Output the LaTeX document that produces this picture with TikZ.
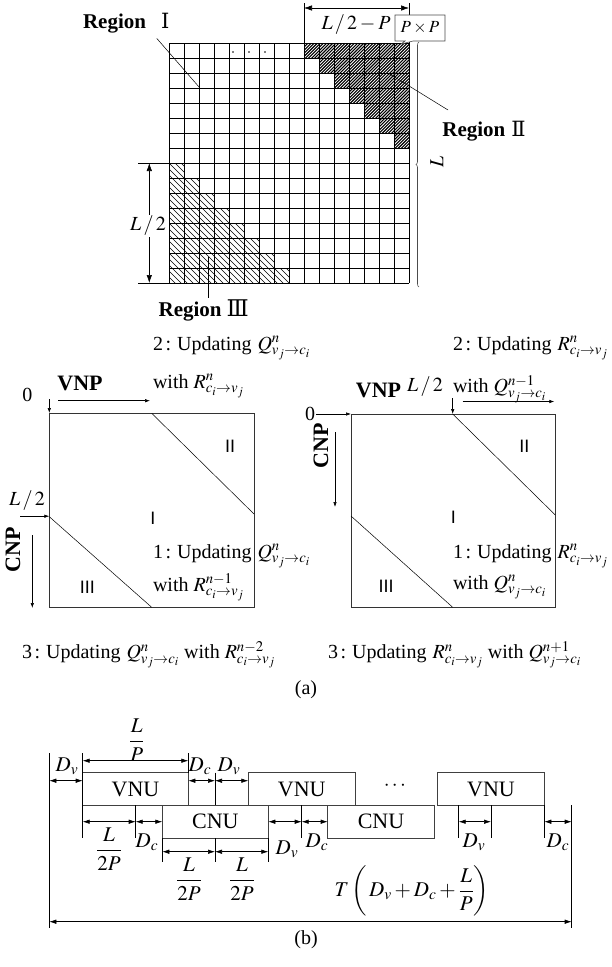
\documentclass[tikz,border=0pt]{standalone}
\usepackage{amsmath}
\usepackage{mathptmx}
\usepackage[no-math]{fontspec}
\setmainfont{Liberation Serif}
\newfontfamily\arialf{Liberation Sans}
\newfontfamily\romf{DejaVu Serif}
\usetikzlibrary{arrows.meta,decorations.pathreplacing}
\newcommand\Qvc[1]{Q^{#1}_{v_j\to c_i}}
\newcommand\Rcv[1]{R^{#1}_{c_i\to v_j}}
\newcommand\stepno[1]{#1\hspace{2.5pt}:\hspace{6pt}Updating\hspace{6pt}}
\begin{document}
\begin{tikzpicture}[x=1pt,y=-1pt,
  font=\fontsize{20}{24}\selectfont,
  line width=0.7pt,
  gline/.style={line width=0.6pt},
  thinline/.style={line width=0.5pt},
  hatchA/.style={line width=1.1pt},
  hatchB/.style={line width=0.7pt},
  dimA/.style={{Latex[length=8pt,width=5.5pt]}-{Latex[length=8pt,width=5.5pt]},line width=0.6pt},
  tarrow/.style={{Latex[length=7pt,width=4.5pt]}-{Latex[length=7pt,width=4.5pt]},line width=0.6pt},
  sarrow/.style={-{Latex[length=5pt,width=3.5pt]},line width=0.6pt},
  txt/.style={anchor=base west,inner sep=0pt},
  regionlbl/.style={anchor=base west,inner sep=0pt,font=\fontsize{21}{25}\selectfont\bfseries},
  roman/.style={font=\fontsize{18}{20}\selectfont\arialf,inner sep=0pt},
  boxst/.style={draw=black!75,line width=0.7pt},
  bold/.style={font=\fontsize{22}{26}\selectfont\bfseries,inner sep=0pt},
  blab/.style={font=\fontsize{21}{25}\selectfont,inner sep=1pt}]
\useasboundingbox (0,0) rectangle (612,967);

% ---------------- top grid ----------------
% Region II hatching (/ lines)
\begin{scope}
  \clip (304,43) -- (409,43) -- (409,148) -- (394,148) -- (394,133) -- (379,133) -- (379,118)
    -- (364,118) -- (364,103) -- (349,103) -- (349,88) -- (334,88) -- (334,73) -- (319,73)
    -- (319,58) -- (304,58) -- cycle;
  \foreach \c in {345,348.1,...,560}
    \draw[hatchA] ({\c-150},150) -- ({\c-40},40);
\end{scope}
% Region III hatching (\ lines)
\begin{scope}
  \clip (169,163) -- (184,163) -- (184,178) -- (199,178) -- (199,193) -- (214,193) -- (214,208)
    -- (229,208) -- (229,223) -- (244,223) -- (244,238) -- (259,238) -- (259,253) -- (274,253)
    -- (274,268) -- (289,268) -- (289,283) -- (169,283) -- cycle;
  \foreach \c in {-120,-114,...,130}
    \draw[hatchB] ({\c+160},160) -- ({\c+290},290);
\end{scope}
\foreach \i in {0,...,16} {
  \draw[gline] ({169+15*\i},43) -- ({169+15*\i},283);
  \draw[gline] (169,{43+15*\i}) -- (409,{43+15*\i});
}
\foreach \x in {233,249,265} \fill (\x,52) circle (0.9pt);

% L/2-P dimension
\coordinate (d1a) at (304,3); \coordinate (d1b) at (304,43);
\coordinate (d2a) at (409,3); \coordinate (d2b) at (409,43);
\draw[thinline] (d1a) -- (d1b);
\draw[thinline] (d2a) -- (d2b);
\coordinate (a1) at (304,8); \coordinate (a2) at (409,8);
\draw[dimA] (a1) -- (a2);
\node (lp) at (356,25) {$L\,/\,2-P$};

% P x P callout
\draw[fill=white,draw=black!70,line width=0.6pt] (395,15) -- (445,15) -- (445,41) -- (413,41) -- (401,44) -- (405,41) -- (395,41) -- cycle;
\node (pp) at (420,28) {\fontsize{17}{20}\selectfont $P\times P$};

% L brace
\coordinate (b1) at (419,287); \coordinate (b2) at (419,42);
\draw[decorate,decoration={brace,amplitude=3pt},draw=black!70,line width=0.6pt] (b1) -- (b2);
\node[rotate=90] (Ll) at (437,162) {$L$};

% L/2 dimension (left)
\draw[thinline] (138,163) -- (169,163);
\draw[thinline] (138,283) -- (169,283);
\coordinate (h1) at (149.3,163); \coordinate (h2) at (149.3,283);
\draw[dimA] (h1) -- (h2);
\node[fill=white,inner sep=1pt] (lh) at (148,226) {$L\,/\,2$};

% region labels and leaders
\node[regionlbl] (r1) at (82.7,28.3) {Region\hspace{15pt}{\romf\mdseries Ⅰ}};
\node[regionlbl] (r2) at (442,136.5) {Region\hspace{6pt}{\romf\mdseries Ⅱ}};
\node[regionlbl] (r3) at (158.3,316.7) {Region\hspace{5pt}{\romf\mdseries\fontsize{23}{25}\selectfont Ⅲ}};
\coordinate (l1a) at (156.7,38.3); \coordinate (l1b) at (199.3,87.3);
\coordinate (l2a) at (388,73); \coordinate (l2b) at (448,110);
\coordinate (l3a) at (208.3,257); \coordinate (l3b) at (208.3,298);
\draw[thinline] (l1a) -- (l1b);
\draw[thinline] (l2a) -- (l2b);
\draw[thinline] (l3a) -- (l3b);

% ---------------- (a) left ----------------
\draw[line width=0.7pt,draw=black!80] (49.3,413.3) rectangle (254,607.3);
\draw[thinline] (151.7,413.3) -- (254,514);
\draw[thinline] (49.3,516.7) -- (151.7,607.3);
\node[roman] (lII) at (230,446.7) {II};
\node[roman,anchor=base west] (lI) at (150,524) {I};
\node[roman] (lIII) at (87.3,587.5) {III};
\node[txt] (lt2) at (152.7,350) {\stepno{2}$\Qvc{n}$};
\node[txt] (lw2) at (152.7,388) {with $\Rcv{n}$};
\node[txt] (lt1) at (152.7,558) {\stepno{1}$\Qvc{n}$};
\node[txt] (lw1) at (152.7,591) {with $\Rcv{n-1}$};
\node[bold] (lvnp) at (80,383) {VNP};
\node (l0) at (27.5,395) {0};
\draw[sarrow] (49.3,399) -- (49.3,413);
\draw[sarrow] (58.3,400.7) -- (150,400.7);
\node (llh) at (27,501) {$L\,/\,2$};
\draw[sarrow] (20,516.2) -- (49.3,516.2);
\node[bold,rotate=90] (lcnp) at (13,550) {CNP};
\draw[sarrow] (32.3,535) -- (32.3,608);

% ---------------- (a) right ----------------
\draw[line width=0.7pt,draw=black!80] (351,414) rectangle (555.3,607.3);
\draw[thinline] (452.7,414) -- (555.3,515);
\draw[thinline] (351,516) -- (452.7,607.3);
\node[roman] (rII) at (524.3,446.7) {II};
\node[roman,anchor=base west] (rI) at (450.5,523.5) {I};
\node[roman] (rIII) at (386,586.7) {III};
\node[txt] (rt2) at (452.7,350) {\stepno{2}$\Rcv{n}$};
\node[txt] (rw2) at (452.7,392.5) {with $\Qvc{n-1}$};
\node[txt] (rt1) at (452.7,558) {\stepno{1}$\Rcv{n}$};
\node[txt] (rw1) at (452.7,589) {with $\Qvc{n}$};
\node[bold] (rvnp) at (378.5,390) {VNP};
\node (rlh) at (425,386.5) {$L\,/\,2$};
\node (r0) at (310,414) {0};
\draw[sarrow] (316,414) -- (351,414);
\node[bold,rotate=90] (rcnp) at (321,446) {CNP};
\draw[sarrow] (335,432) -- (335,507);
\draw[sarrow] (452.7,398) -- (452.7,414);
\draw[sarrow] (462.7,401.5) -- (554.3,401.5);

% step 3 lines
\node[txt] (l3) at (21.7,658.3) {\stepno{3}$\Qvc{n}$ with $\Rcv{n-2}$};
\node[txt] (r3t) at (327.7,658.3) {\stepno{3}$\Rcv{n}$ with $\Qvc{n+1}$};
\node (capa) at (306,690) {(a)};

% ---------------- (b) timing ----------------
\draw[boxst] (82.7,772.7) rectangle (188.3,805);
\node[blab] (vnu1) at (135.5,789) {\fontsize{22}{26}\selectfont VNU};
\draw[boxst] (162.3,805) rectangle (268.3,838.3);
\node[blab] (cnu1) at (215.3,821.7) {\fontsize{22}{26}\selectfont CNU};
\draw[boxst] (248.3,772.7) rectangle (355.3,805);
\node[blab] (vnu2) at (301.8,789) {\fontsize{22}{26}\selectfont VNU};
\draw[boxst] (327.7,805) rectangle (434.3,838.3);
\node[blab] (cnu2) at (381,821.7) {\fontsize{22}{26}\selectfont CNU};
\draw[boxst] (437.7,772.7) rectangle (544.3,805);
\node[blab] (vnu3) at (491,789) {\fontsize{22}{26}\selectfont VNU};
\node[blab] (dots) at (396,786) {$\cdots$};

% extension lines
\draw[thinline] (49.3,753.3) -- (49.3,928.3);
\draw[thinline] (82.7,753.3) -- (82.7,838.3);
\draw[thinline] (188.3,753.3) -- (188.3,772.7);
\draw[thinline] (215,772.7) -- (215,805);
\draw[thinline] (215,838.3) -- (215,861.7);
\draw[thinline] (135.7,805) -- (135.7,838.3);
\draw[thinline] (162.3,838.3) -- (162.3,861.7);
\draw[thinline] (268.3,838.3) -- (268.3,861.7);
\draw[thinline] (301.7,805) -- (301.7,838.3);
\draw[thinline] (458.7,805) -- (458.7,838.3);
\draw[thinline] (491,805) -- (491,838.3);
\draw[thinline] (544.3,805) -- (544.3,838.3);
\draw[thinline] (571.7,805) -- (571.7,928.3);

% dimension arrows
\draw[tarrow] (49.3,780.7) -- (82.7,780.7);
\draw[tarrow] (82.7,760.7) -- (188.3,760.7);
\draw[tarrow] (188.3,780.7) -- (215,780.7);
\draw[tarrow] (215,780.7) -- (248.3,780.7);
\draw[tarrow] (82.7,821.7) -- (135.7,821.7);
\draw[tarrow] (135.7,821.7) -- (162.3,821.7);
\draw[tarrow] (162.3,851.7) -- (215,851.7);
\draw[tarrow] (215,851.7) -- (268.3,851.7);
\draw[tarrow] (268.3,821.7) -- (301.7,821.7);
\draw[tarrow] (301.7,821.7) -- (327.7,821.7);
\draw[tarrow] (458.7,821.7) -- (491,821.7);
\draw[tarrow] (544.3,821.7) -- (571.7,821.7);
\draw[tarrow] (49.3,921.7) -- (571.7,921.7);

% labels
\node[blab] (dv1) at (67,766) {$D_v$};
\node[blab] (lp1) at (136.7,740) {$\dfrac{L}{P}$};
\node[blab] (dc1) at (200,766) {$D_c$};
\node[blab] (dv2) at (229,766) {$D_v$};
\node[blab] (l2p1) at (109,849) {$\dfrac{L}{2P}$};
\node[blab] (dc2) at (147,842) {$D_c$};
\node[blab] (l2p2) at (189,879) {$\dfrac{L}{2P}$};
\node[blab] (l2p3) at (242,879) {$\dfrac{L}{2P}$};
\node[blab] (dv3) at (287,849) {$D_v$};
\node[blab] (dc3) at (317,842) {$D_c$};
\node[blab] (dv4) at (474,842) {$D_v$};
\node[blab] (dc4) at (558,842) {$D_c$};
\node[blab,inner sep=0pt] (tt) at (412,891) {$T\left(\,D_v+D_c+\dfrac{L}{P}\right)$};
\node (capb) at (306,940) {(b)};
\end{tikzpicture}
\end{document}
